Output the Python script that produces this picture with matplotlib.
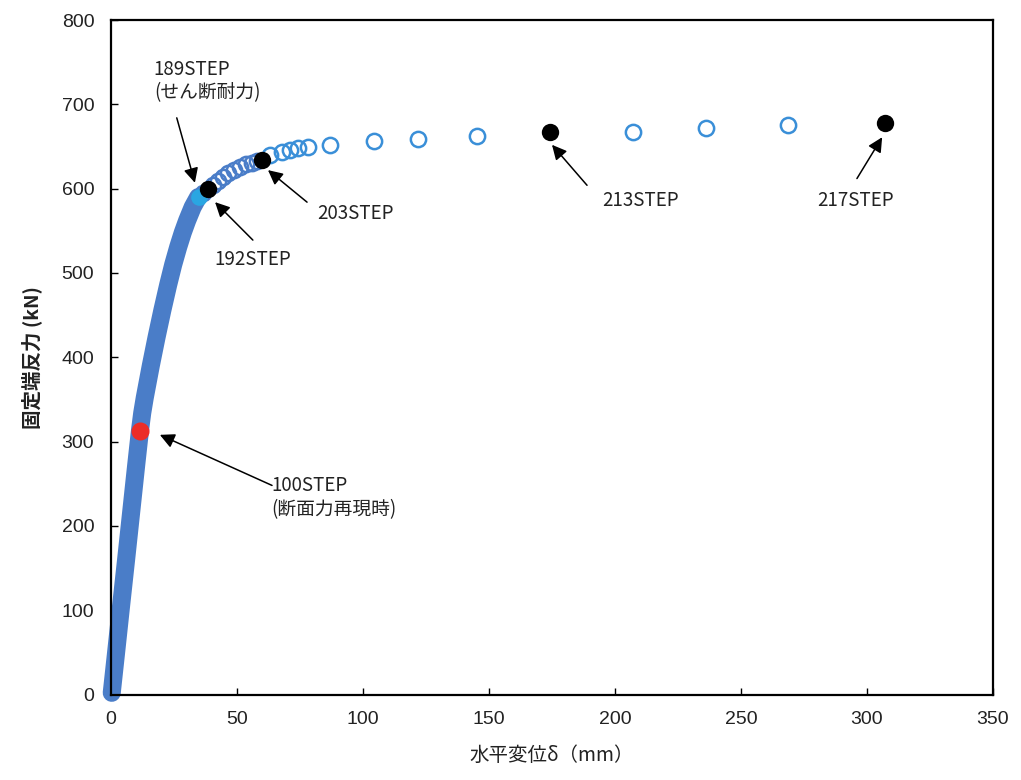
import matplotlib
matplotlib.use("Agg")
import matplotlib.pyplot as plt

# 水平変位δ (mm) - 固定端反力 (kN)
# dense part of the curve (steps up to the shear capacity)
band_x = [0.3, 2.0, 4.0, 6.0, 8.0, 10.0, 11.5, 12.4, 13.4, 15.8, 18.1,
          20.4, 22.7, 24.7, 26.7, 28.5, 30.2, 32.4, 34.6]
band_y = [2, 49, 105, 160, 216, 272, 313, 334, 352, 390, 424,
          456, 486, 510, 531, 548, 562, 578, 590]
# open circles after 189STEP (darker, overlapping ones)
open1_x = [36.5, 40.5, 42.5, 44.4, 46.5, 48.8, 51.2, 53.5, 56.0, 58.0]
open1_y = [595, 604, 609, 614, 618, 622, 626, 629, 631, 633]
# open circles after 203STEP
open2_x = [63.1, 67.7, 71.0, 74.3, 78.3, 86.9, 104.4, 121.8, 145.2,
           207.1, 236.1, 268.7]
open2_y = [640, 644, 646, 648, 650, 652, 657, 659, 662.5,
           667, 672, 675.5]
# highlighted steps
red_x, red_y = [11.5], [313]          # 100STEP
cyan_x, cyan_y = [35.0], [590]        # 189STEP
black_x = [38.6, 59.8, 174.2, 307.1]  # 192, 203, 213, 217STEP
black_y = [600, 634, 667, 678]

x_ticks = [0, 50, 100, 150, 200, 250, 300, 350]
y_ticks = [0, 100, 200, 300, 400, 500, 600, 700, 800]

# annotations: text, text top-left, arrow tail, arrow tip (data coords)
notes = [
    ("189STEP\n(せん断耐力)", (17.0, 754), (26.1, 684), (33.3, 607)),
    ("192STEP", (41.0, 528), (56.3, 539), (41.3, 584)),
    ("203STEP", (81.8, 583), (77.8, 584), (62.3, 622)),
    ("213STEP", (194.9, 598), (188.9, 604), (175.0, 652)),
    ("217STEP", (280.3, 598), (296.0, 612), (306.0, 661)),
    ("100STEP\n(断面力再現時)", (63.6, 260), (63.9, 248), (19.4, 308)),
]

BAND = "#4a7dc8"
LIGHT = "#3a8fd8"
JP = ["Noto Sans CJK JP", "DejaVu Sans"]

fig = plt.figure(figsize=(10.21, 7.8), dpi=100)
ax = fig.add_axes([0.1087, 0.1096, 0.8639, 0.8647])

# dense band: heavily overlapping open circles, drawn as one thick stroke
ax.plot(band_x, band_y, color=BAND, lw=13, solid_capstyle="round",
        solid_joinstyle="round", zorder=2, clip_on=False)
ax.plot(open1_x, open1_y, "o", mfc="none", mec=BAND, ms=11, mew=1.8, zorder=2)
ax.plot(open2_x, open2_y, "o", mfc="none", mec=LIGHT, ms=11, mew=1.8, zorder=2)
ax.plot(cyan_x, cyan_y, "o", color="#2aa6e2", ms=12, mew=0, zorder=3)
ax.plot(red_x, red_y, "o", color="#ec2d27", ms=13, mew=0, zorder=3)
ax.plot(black_x, black_y, "o", color="black", ms=12.5, mew=0, zorder=4)

for text, pos, tail, tip in notes:
    ax.annotate("", xy=tip, xytext=tail,
                arrowprops=dict(arrowstyle="-|>", color="black", lw=1.1,
                                mutation_scale=22, shrinkA=0, shrinkB=0),
                zorder=5)
    ax.text(pos[0], pos[1], text, family=JP, fontsize=13.5, color="#222222",
            ha="left", va="top", linespacing=1.15, zorder=5)

ax.set_xlim(0, 350)
ax.set_ylim(0, 800)
ax.set_xticks(x_ticks)
ax.set_yticks(y_ticks)
ax.tick_params(direction="in", length=5, width=1, pad=12,
               labelsize=14, labelcolor="#222222")
for lab in ax.get_xticklabels() + ax.get_yticklabels():
    lab.set_family("Liberation Sans")
for sp in ax.spines.values():
    sp.set_linewidth(1.6)
    sp.set_color("black")

ax.set_xlabel("水平変位δ（mm）", family=JP, fontsize=14, color="#222222",
              labelpad=12)
ax.set_ylabel("固定端反力 (kN)", family=JP, fontsize=14, fontweight="bold",
              color="#222222", labelpad=14)

fig.savefig("out.png", dpi=100)
